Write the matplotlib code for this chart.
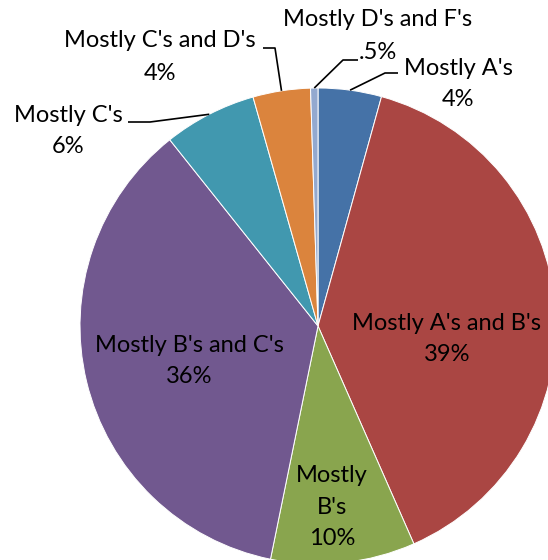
import numpy as np
import matplotlib
matplotlib.use("Agg")
import matplotlib.pyplot as plt

plt.rcParams['font.family'] = ['Lato', 'DejaVu Sans']

categories = ["Mostly A's", "Mostly A's and B's", "Mostly B's", "Mostly B's and C's",
              "Mostly C's", "Mostly C's and D's", "Mostly D's and F's"]
values = [4.3, 39.1, 9.8, 36.1, 6.3, 3.9, 0.5]
pct_labels = ["4%", "39%", "10%", "36%", "6%", "4%", ".5%"]
colors = ['#4572A7', '#AA4643', '#89A54E', '#71588F', '#4198AF', '#DB843D', '#93A9CF']

W, H = 548, 560
fig = plt.figure(figsize=(W / 100, H / 100), dpi=100)
ax = fig.add_axes([0, 0, 1, 1])

def Y(py):
    return H - py

cx, cy, R = 318, Y(326), 238
wedges, _ = ax.pie(values, colors=colors, startangle=90, counterclock=False,
                   center=(cx, cy), radius=R,
                   wedgeprops=dict(edgecolor='white', linewidth=0.7))
ax.set_xlim(0, W)
ax.set_ylim(0, H)
ax.set_aspect('equal', adjustable='box')
ax.axis('off')

FS = 17

def mid_point(w):
    a = np.deg2rad((w.theta1 + w.theta2) / 2)
    return cx + R * np.cos(a), cy + R * np.sin(a)

# inside labels
inside = {
    1: ("Mostly A's and B's\n39%", 447, 339),
    3: ("Mostly B's and C's\n36%", 189, 361),
    2: ("Mostly\nB's\n10%", 332, 507),
}
for i, (txt, x, y) in inside.items():
    ax.text(x, Y(y), txt, ha='center', va='center', fontsize=FS,
            linespacing=1.62, color='black')

# outside labels with leader lines: (label x, label y, elbow pts, linespacing)
outside = {
    0: (458, 84, [(385, 73), (398, 73)], 1.58),
    6: (378, 36, [(343, 60), (358, 60)], 1.72),
    5: (160, 57, [(275, 48), (263, 48)], 1.66),
    4: (68, 131, [(150, 122), (128, 122)], 1.62),
}
for i, (x, y, elbow, ls) in outside.items():
    mx, my = mid_point(wedges[i])
    xs = [mx] + [p[0] for p in elbow]
    ys = [my] + [Y(p[1]) for p in elbow]
    ax.plot(xs, ys, color='black', lw=1.2, solid_capstyle='butt')
    ax.text(x, Y(y), categories[i] + "\n" + pct_labels[i], ha='center', va='center',
            fontsize=FS, linespacing=ls, color='black')

fig.savefig("out.png", dpi=100, facecolor='white')
